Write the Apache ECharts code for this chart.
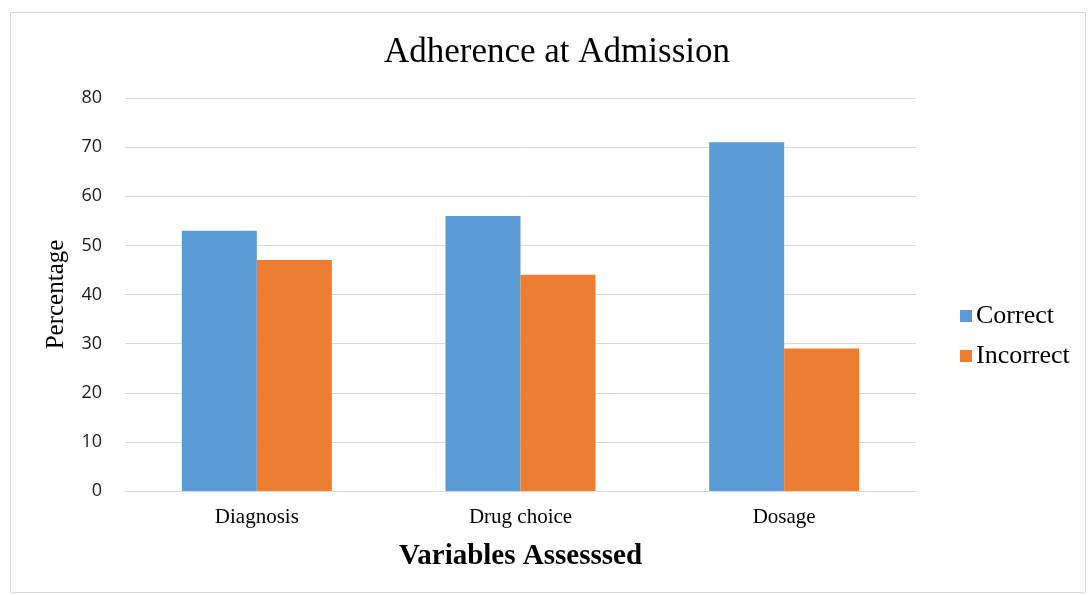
<!DOCTYPE html>
<html>
<head>
<meta charset="utf-8">
<script src="https://cdn.jsdelivr.net/npm/echarts@6/dist/echarts.min.js"></script>
<style>
  html, body { margin: 0; padding: 0; background: #fff; }
  #frame { position: absolute; left: 10px; top: 12px; width: 1076px; height: 581px; border: 1px solid #d9d9d9; box-sizing: border-box; }
  #chart { position: absolute; left: 0; top: 0; width: 1089px; height: 595px; }
</style>
</head>
<body>
<div id="frame"></div>
<div id="chart"></div>
<script>
const categories = ['Diagnosis', 'Drug choice', 'Dosage'];
const correct = [53, 56, 71];
const incorrect = [47, 44, 29];

const chart = echarts.init(document.getElementById('chart'));
const serif = '"Liberation Serif", "Times New Roman", serif';

chart.setOption({
  animation: false,
  title: {
    text: 'Adherence at Admission',
    left: 379,
    top: 30,
    textStyle: { fontFamily: serif, fontSize: 35, fontWeight: 'normal', color: '#000' }
  },
  legend: {
    orient: 'vertical',
    left: 955,
    top: 298,
    itemGap: 14,
    itemWidth: 12,
    itemHeight: 12,
    icon: 'rect',
    textStyle: { fontFamily: serif, fontSize: 26, color: '#000', padding: [0, 0, 0, -1] },
    data: ['Correct', 'Incorrect']
  },
  grid: { left: 125, right: 173, top: 98, bottom: 104 },
  xAxis: {
    type: 'category',
    data: categories,
    name: 'Variables Assesssed',
    nameLocation: 'middle',
    nameGap: 51,
    nameTextStyle: { fontFamily: serif, fontSize: 29, fontWeight: 'bold', color: '#000' },
    axisLine: { lineStyle: { color: '#d9d9d9' } },
    axisTick: { show: false },
    axisLabel: { fontFamily: serif, fontSize: 21, color: '#000', margin: 16 }
  },
  yAxis: {
    type: 'value',
    min: 0,
    max: 80,
    interval: 10,
    name: 'Percentage',
    nameLocation: 'middle',
    nameGap: 56,
    nameTextStyle: { fontFamily: serif, fontSize: 25, color: '#000' },
    axisLabel: { fontFamily: '"Open Sans", sans-serif', fontSize: 18, color: '#1a1a1a', margin: 23 },
    splitLine: { lineStyle: { color: '#d9d9d9', width: 1 } }
  },
  series: [
    { name: 'Correct', type: 'bar', data: correct, barWidth: 75, barGap: '0%', itemStyle: { color: '#5b9bd5' } },
    { name: 'Incorrect', type: 'bar', data: incorrect, barWidth: 75, itemStyle: { color: '#ed7d31' } }
  ]
});
</script>
</body>
</html>
